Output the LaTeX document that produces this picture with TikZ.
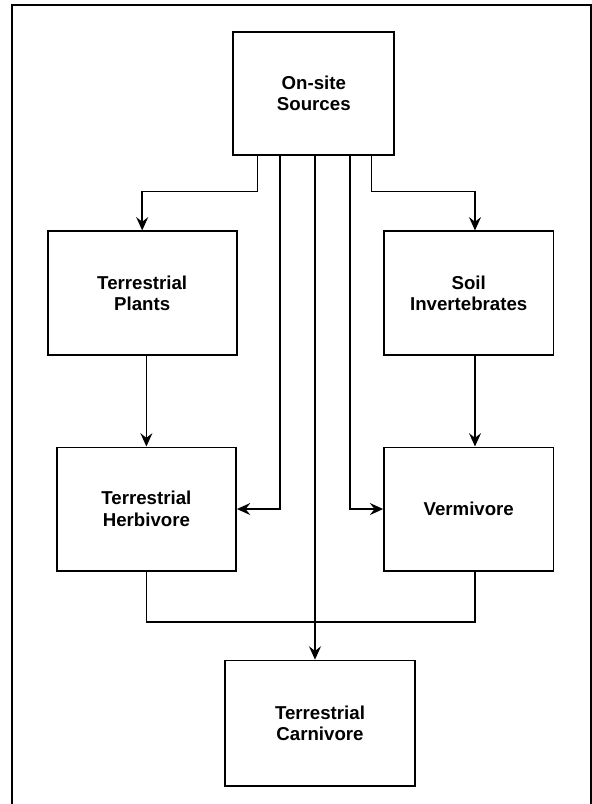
\documentclass[tikz,border=0pt]{standalone}
\usepackage{fontspec}
\setmainfont{Liberation Sans}
\usepackage{tikz}
\usetikzlibrary{arrows.meta, positioning}

\begin{document}
\begin{tikzpicture}[
    x=0.75pt, y=-0.75pt,
    on grid,
    box/.style={draw, line width=1.3pt, inner sep=0pt, minimum height=93pt, font=\fontsize{14}{16.2}\selectfont\bfseries, align=center},
    arrow/.style={-{Stealth[length=10pt, width=9pt, inset=3.5pt]}, line width=1.1pt},
    link/.style={line width=1.1pt},
    frame/.style={line width=1.5pt}
]
    \useasboundingbox (0,0) rectangle (592,804);
    \draw[frame] (11.7,810) -- (11.7,5) -- (591,5) -- (591,810);

    % Nodes
    \node[box, minimum width=120.75pt, minimum height=92.5pt] (src) at (313.8,93.3) {On-site\\Sources};
    \node[box, minimum width=141.8pt, below left=150pt and 128.7pt of src] (plants) {Terrestrial\\Plants};
    \node[box, minimum width=127pt, below right=150pt and 116.2pt of src] (soil) {Soil\\Invertebrates};
    \node[box, minimum width=134.5pt, minimum height=92.5pt, below=161.8pt of plants, xshift=3.15pt] (herb) {Terrestrial\\Herbivore};
    \node[box, minimum width=127pt, minimum height=92.5pt, below=161.8pt of soil] (verm) {Vermivore};
    \node[box, minimum width=142.5pt, minimum height=94pt, below=472.4pt of src, xshift=4.65pt] (carn) {Terrestrial\\Carnivore};

    % Arrows
    \draw[arrow] ([xshift=-42.4pt]src.south) -- ++(0,-26.6pt) -| (plants.north);
    \draw[arrow] ([xshift=43.4pt]src.south) -- ++(0,-26.6pt) -| ([xshift=4.7pt]soil.north);
    \draw[arrow] ([xshift=-25.35pt]src.south) |- (herb.east);
    \draw[arrow] ([xshift=27.15pt]src.south) |- (verm.west);
    \draw[arrow] ([xshift=0.9pt]src.south) -- ([xshift=0.9pt]src.south |- carn.north);
    \draw[arrow] (plants.south -| herb.north) -- (herb.north);
    \draw[arrow] ([xshift=4.7pt]soil.south) -- ([xshift=4.7pt]verm.north);
    \draw[link] (herb.south) -- ++(0,-37.7pt) -| ([xshift=4.7pt]verm.south);
\end{tikzpicture}
\end{document}
